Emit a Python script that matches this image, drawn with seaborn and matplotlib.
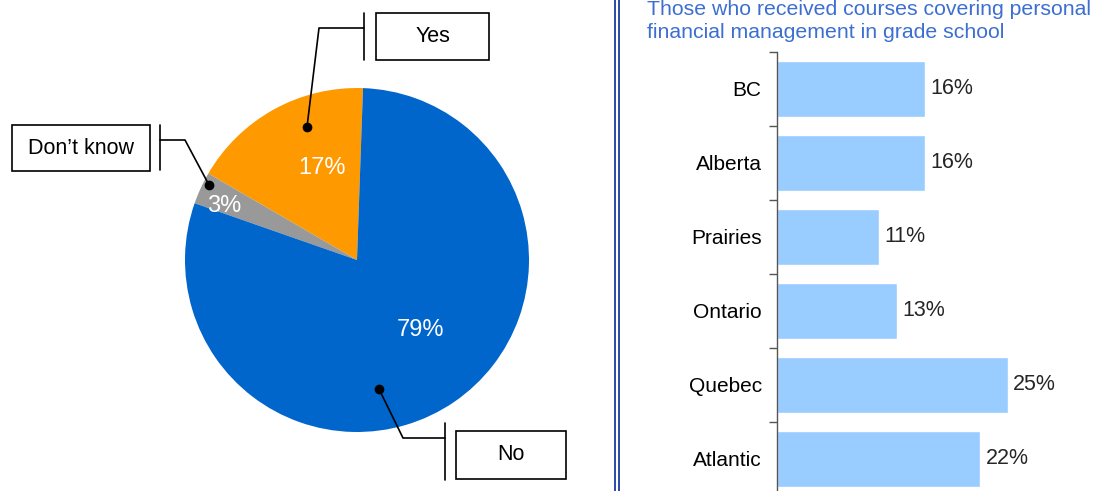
import numpy as np
import matplotlib
matplotlib.use("Agg")
import matplotlib.pyplot as plt
from matplotlib.patches import Rectangle
from matplotlib.lines import Line2D
import seaborn as sns

# ---- data ----
pie_labels = ["Yes", "Don\u2019t know", "No"]
pie_values = [17, 3, 79]
pie_colors = ["#FF9900", "#999999", "#0066CC"]

regions = ["BC", "Alberta", "Prairies", "Ontario", "Quebec", "Atlantic"]
region_values = [16, 16, 11, 13, 25, 22]
bar_title = "Those who received courses covering personal\nfinancial management in grade school"

sns.set_theme(style="white")
plt.rcParams["font.family"] = ["Liberation Sans", "DejaVu Sans"]

W, H = 1102, 491
fig = plt.figure(figsize=(W / 100, H / 100), dpi=100)
fig.patch.set_facecolor("white")

# ---- pie (axes in pixel coordinates, y measured from bottom) ----
ax = fig.add_axes([0, 0, 1, 1])
cx, cy, R = 357, H - 260, 172
wedges, _ = ax.pie(pie_values, colors=pie_colors, startangle=88, counterclock=True,
                   center=(cx, cy), radius=R, wedgeprops=dict(linewidth=0))
ax.set_xlim(0, W)
ax.set_ylim(0, H)
ax.set_aspect("auto")
ax.axis("off")

def py(y):
    return H - y

# percentage labels
pct_pos = [(322, 168), (224, 206), (420, 330)]
for v, (x, y) in zip(pie_values, pct_pos):
    ax.text(x, py(y), f"{v}%", color="white", fontsize=17, ha="center", va="center")

# callouts: dot, path, bar, box
callouts = [
    dict(dot=(307, 127), path=[(319, 28), (364, 28)], bar=(364, 13, 60), box=(376, 13, 489, 60)),
    dict(dot=(209, 185), path=[(185, 140), (160, 140)], bar=(160, 125, 170), box=(12, 125, 150, 171)),
    dict(dot=(379, 389), path=[(403, 438), (445, 438)], bar=(445, 423, 480), box=(456, 431, 566, 479)),
]
for lab, c in zip(pie_labels, callouts):
    xs = [c["dot"][0]] + [p[0] for p in c["path"]]
    ys = [py(c["dot"][1])] + [py(p[1]) for p in c["path"]]
    ax.plot(xs, ys, color="black", lw=1.2)
    ax.plot([c["dot"][0]], [py(c["dot"][1])], "o", color="black", ms=6)
    bx, by0, by1 = c["bar"]
    ax.plot([bx, bx], [py(by0), py(by1)], color="black", lw=1.2)
    x0, y0, x1, y1 = c["box"]
    ax.add_patch(Rectangle((x0, py(y1)), x1 - x0, y1 - y0, fill=False, ec="black", lw=1.2))
    ax.text((x0 + x1) / 2, py((y0 + y1) / 2), lab, fontsize=15.5, ha="center", va="center", color="black")

# separator double line
for xx in (615, 618.5):
    fig.add_artist(Line2D([xx / W, xx / W], [0, 1], color="#2B4BA8", lw=1.4))

# ---- bar chart ----
top, pitch = 52, 74
bottom_px = top + pitch * len(regions)
axb = fig.add_axes([777 / W, (H - bottom_px) / H, 323 / W, (bottom_px - top) / H])
sns.barplot(x=region_values, y=regions, orient="h", color="#99CCFF", saturation=1,
            width=0.77, ax=axb)
axb.set_xlim(0, 35)
axb.set_ylim(len(regions) - 0.5, -0.5)
for cont in axb.containers:
    axb.bar_label(cont, labels=[f"{v}%" for v in region_values], padding=4, fontsize=15.5)
for s in ["top", "right", "bottom"]:
    axb.spines[s].set_visible(False)
axb.spines["left"].set_color("#555555")
axb.spines["left"].set_linewidth(1)
axb.set_xticks([])
axb.set_yticks(np.arange(-0.5, len(regions), 1), minor=True)
axb.tick_params(axis="y", which="major", length=0, labelsize=15, pad=11, labelcolor="black")
axb.tick_params(axis="y", which="minor", length=6, width=1, color="#555555", direction="out", left=True)
axb.set_xlabel("")
axb.set_ylabel("")
axb.patch.set_alpha(0)

fig.text(647 / W, (H - 21) / H, bar_title, color="#3C6FD1", fontsize=15.3,
         ha="left", va="center", linespacing=1.25)

fig.savefig("out.png", dpi=100)
